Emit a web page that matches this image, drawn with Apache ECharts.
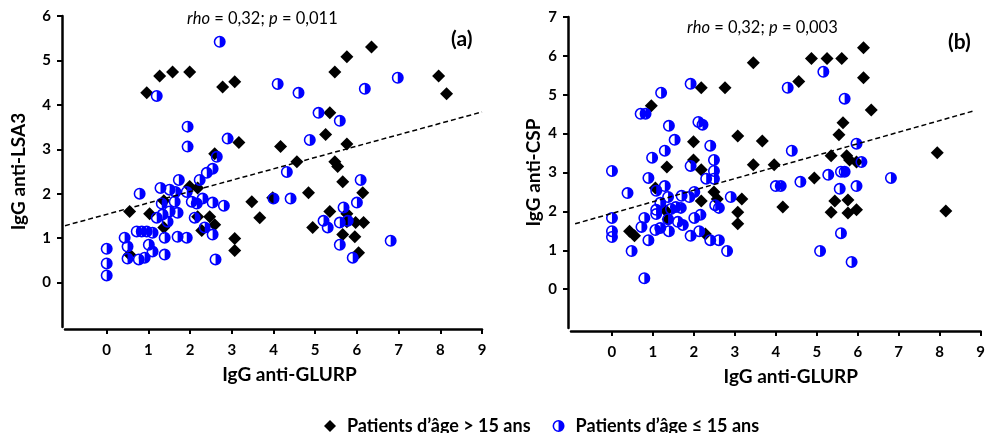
<!DOCTYPE html>
<html>
<head>
<meta charset="UTF-8">
<title>IgG anti-GLURP</title>
<script src="https://cdn.jsdelivr.net/npm/echarts@6/dist/echarts.min.js"></script>
<style>
  html, body { margin: 0; background: #fff; }
  #main { width: 988px; height: 433px; }
</style>
</head>
<body>
<div id="main"></div>
<script>
// (a) IgG anti-GLURP vs IgG anti-LSA3
var adultLsa3 = [[0.96,4.27],[1.27,4.65],[1.58,4.74],[1.99,4.74],[2.78,4.40],[3.07,4.52],[3.17,3.15],[2.59,2.90],
  [1.99,2.16],[2.18,2.13],[1.37,1.84],[0.55,1.60],[1.03,1.55],[3.48,1.82],[3.98,1.91],[3.67,1.46],[2.18,1.48],
  [2.47,1.48],[2.59,1.30],[2.28,1.17],[1.37,1.24],[3.07,0.99],[3.07,0.72],[0.55,0.63],[6.35,5.30],[5.76,5.08],
  [5.47,4.74],[7.96,4.65],[8.15,4.25],[5.35,3.82],[5.25,3.33],[5.76,3.12],[4.17,3.06],[4.56,2.72],[5.47,2.72],
  [5.54,2.61],[5.66,2.27],[4.84,2.02],[6.14,2.02],[5.35,1.60],[4.94,1.24],[5.76,1.55],[5.76,1.37],[5.97,1.35],
  [6.16,1.35],[5.66,1.08],[5.95,1.03],[6.04,0.67]];
var childLsa3 = [[2.71,5.42],[1.20,4.20],[1.94,3.51],[1.94,3.06],[2.90,3.24],[2.64,2.83],[2.54,2.56],[2.40,2.47],
  [2.23,2.31],[1.73,2.31],[0.79,2.00],[1.29,2.13],[1.51,2.09],[1.65,2.04],[1.92,2.04],[1.63,1.82],[2.04,1.82],
  [2.16,1.78],[2.30,1.89],[2.54,1.80],[2.81,1.73],[1.32,1.78],[1.51,1.60],[1.70,1.57],[2.11,1.46],[1.20,1.46],
  [1.34,1.53],[1.46,1.37],[0.72,1.15],[0.84,1.15],[0.96,1.15],[1.10,1.12],[1.39,1.01],[1.70,1.03],[1.92,1.01],
  [2.35,1.24],[2.54,1.08],[0.43,1.01],[0.50,0.81],[1.01,0.85],[1.10,0.70],[1.39,0.63],[0.50,0.54],[0.77,0.52],
  [0.91,0.56],[0,0.76],[0,0.43],[0,0.16],[2.61,0.52],[4.10,4.47],[4.60,4.27],[6.19,4.36],[6.98,4.61],[5.08,3.82],
  [5.59,3.64],[4.87,3.21],[4.32,2.49],[4.00,1.89],[4.41,1.89],[6.09,2.31],[6.00,1.80],[5.68,1.69],[5.20,1.39],
  [5.30,1.24],[5.59,1.35],[5.78,1.39],[5.59,0.85],[5.90,0.56],[6.81,0.94]];
var trendLsa3 = [[-1,1.28],[9,3.84]];

// (b) IgG anti-GLURP vs IgG anti-CSP
var adultCsp = [[0.96,4.72],[2.18,5.18],[2.76,5.18],[3.07,3.94],[1.99,3.79],[1.34,3.14],[1.99,3.32],[2.18,3.07],
  [1.06,2.60],[2.49,2.50],[2.57,2.32],[2.18,2.27],[3.17,2.32],[3.07,1.98],[3.07,1.68],[1.32,2.01],[1.37,1.80],
  [0.43,1.49],[0.55,1.37],[2.28,1.42],[6.14,6.21],[4.87,5.93],[5.25,5.93],[5.61,5.93],[3.45,5.82],[4.56,5.34],
  [6.14,5.44],[6.33,4.61],[5.64,4.28],[5.54,3.97],[3.67,3.81],[3.45,3.20],[3.96,3.20],[5.35,3.43],[5.73,3.43],
  [5.80,3.32],[5.97,3.27],[7.94,3.51],[4.94,2.86],[4.17,2.11],[5.44,2.27],[5.76,2.29],[5.35,1.98],[5.76,1.96],
  [5.97,2.04],[8.15,2.01]];
var childCsp = [[1.92,5.28],[1.20,5.05],[0.70,4.51],[0.82,4.51],[1.39,4.20],[2.11,4.30],[2.21,4.23],[1.53,3.84],
  [2.40,3.69],[1.29,3.56],[0.98,3.38],[2.49,3.32],[1.92,3.17],[2.49,3.04],[2.30,2.84],[2.49,2.84],[0,3.04],
  [0.89,2.86],[1.29,2.65],[0.38,2.47],[1.08,2.53],[1.37,2.37],[1.70,2.40],[2.01,2.50],[1.89,2.37],[2.90,2.37],
  [2.52,2.16],[2.61,2.09],[1.18,2.22],[1.08,2.04],[1.56,2.11],[1.68,2.09],[1.44,2.06],[1.37,1.80],[0.79,1.83],
  [1.61,1.73],[1.73,1.65],[2.01,1.83],[2.16,1.91],[0,1.83],[0,1.49],[0,1.34],[0.72,1.60],[1.06,1.52],[1.18,1.57],
  [1.39,1.49],[2.13,1.49],[0.89,1.26],[1.92,1.37],[2.40,1.26],[2.61,1.26],[0.48,0.98],[2.81,0.98],[0.79,0.28],
  [5.16,5.59],[4.29,5.18],[5.68,4.90],[4.39,3.56],[5.97,3.74],[6.09,3.27],[5.59,3.02],[5.68,3.02],[5.28,2.94],
  [4.60,2.76],[4.00,2.65],[4.12,2.65],[6.81,2.86],[5.56,2.58],[5.97,2.65],[5.59,1.44],[5.08,0.98],[5.85,0.70],
  [1.08,1.93]];
var trendCsp = [[-0.9,1.68],[8.85,4.59]];

var xTicks = [0, 1, 2, 3, 4, 5, 6, 7, 8, 9];
var lsa3Ticks = [0, 1, 2, 3, 4, 5, 6];
var cspTicks = [0, 1, 2, 3, 4, 5, 6, 7];

var adultName = 'Patients d\u2019\u00e2ge > 15 ans';
var childName = 'Patients d\u2019\u00e2ge \u2264 15 ans';
var halfCircle = 'path://M10 0A10 10 0 1 1 10 20A10 10 0 1 1 10 0ZM10 2.6A7.4 7.4 0 0 0 10 17.4Z';
var font = 'Lato';

function xAxis(grid, offset, namePad) {
  return {
    type: 'value', gridIndex: grid, min: -1, max: 9, interval: 1, offset: offset,
    name: 'IgG anti-GLURP', nameLocation: 'middle', nameGap: 36,
    nameTextStyle: { fontFamily: font, fontWeight: 'bold', fontSize: 19, color: '#000', padding: [0, 0, 0, namePad] },
    axisLine: { onZero: false, lineStyle: { color: '#000', width: 2.5 } },
    axisTick: { length: 5, lineStyle: { width: 2, color: '#000' }, customValues: xTicks },
    axisLabel: { fontFamily: font, fontWeight: 'bold', fontSize: 15, color: '#000', margin: 14, customValues: xTicks },
    splitLine: { show: false }
  };
}
function yAxis(grid, max, ticks, name, gap) {
  return {
    type: 'value', gridIndex: grid, min: -1, max: max, interval: 1, offset: 3,
    name: name, nameLocation: 'middle', nameGap: gap,
    nameTextStyle: { fontFamily: font, fontWeight: 'bold', fontSize: 19, color: '#000' },
    axisLine: { onZero: false, lineStyle: { color: '#000', width: 2.5 } },
    axisTick: { length: 5, lineStyle: { width: 2, color: '#000' }, customValues: ticks },
    axisLabel: { fontFamily: font, fontWeight: 'bold', fontSize: 15, color: '#000', margin: 11, customValues: ticks },
    splitLine: { show: false }
  };
}
function adult(grid, data) {
  return { name: adultName, type: 'scatter', xAxisIndex: grid, yAxisIndex: grid, data: data,
    symbol: 'diamond', symbolSize: 13, itemStyle: { color: '#000', opacity: 1 }, z: 2 };
}
function child(grid, data) {
  return { name: childName, type: 'scatter', xAxisIndex: grid, yAxisIndex: grid, data: data,
    symbol: halfCircle, symbolSize: 12, itemStyle: { color: '#0000ff', opacity: 1 }, z: 3 };
}
function trend(grid, data) {
  return { type: 'line', xAxisIndex: grid, yAxisIndex: grid, data: data, symbol: 'none', silent: true,
    lineStyle: { color: '#000', width: 1.5, type: [5, 3] }, z: 4 };
}
function stat(text, left, top) {
  return { text: text, left: left, top: top, padding: 0,
    textStyle: { fontFamily: font, fontWeight: 'normal', fontSize: 16.5, color: '#000',
      rich: { i: { fontFamily: font, fontStyle: 'italic', fontSize: 16.5, color: '#000' } } } };
}
function panel(text, left, top) {
  return { text: text, left: left, top: top, padding: 0,
    textStyle: { fontFamily: font, fontWeight: 'bold', fontSize: 21, color: '#000' } };
}

var myChart = echarts.init(document.getElementById('main'));
myChart.setOption({
  animation: false,
  title: [
    stat('{i|rho} = 0,32; {i|p} = 0,011', 187, 10),
    stat('{i|rho} = 0,32; {i|p} = 0,003', 687, 19),
    panel('(a)', 451, 29),
    panel('(b)', 948, 32)
  ],
  legend: {
    left: 324, top: 417, padding: 0, itemGap: 22, itemWidth: 12, itemHeight: 12,
    textStyle: { fontFamily: font, fontWeight: 'bold', fontSize: 18, color: '#000', padding: [0, 0, 0, 6] },
    data: [{ name: adultName, icon: 'diamond' }, { name: childName, icon: halfCircle }]
  },
  grid: [
    { left: 65, width: 417, top: 16, height: 311 },
    { left: 571, width: 417, top: 17, height: 311 }
  ],
  xAxis: [xAxis(0, 2, 32), xAxis(1, 3, 30)],
  yAxis: [yAxis(0, 6, lsa3Ticks, 'IgG anti-LSA3', 34), yAxis(1, 7, cspTicks, 'IgG anti-CSP', 25)],
  series: [
    adult(0, adultLsa3), child(0, childLsa3), trend(0, trendLsa3),
    adult(1, adultCsp), child(1, childCsp), trend(1, trendCsp)
  ]
});
</script>
</body>
</html>
